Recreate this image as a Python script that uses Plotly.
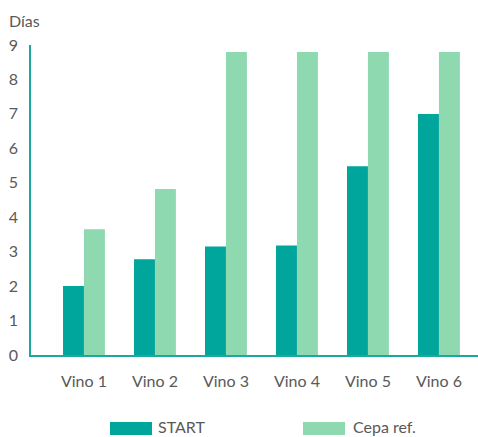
import plotly.graph_objects as go

categories = ["Vino 1", "Vino 2", "Vino 3", "Vino 4", "Vino 5", "Vino 6"]
start_vals = [2.0, 2.78, 3.15, 3.18, 5.48, 7.0]
cepa_vals = [3.65, 4.82, 8.8, 8.8, 8.8, 8.8]
series_names = ["START", "Cepa ref."]
y_ticks = [0, 1, 2, 3, 4, 5, 6, 7, 8, 9]

c_start = "#00a59b"
c_cepa = "#8fd9b0"
txt = "#595959"
axis_c = "#1aa8a0"
font = "Lato"

fig = go.Figure()
fig.add_trace(go.Bar(x=categories, y=start_vals, name=series_names[0],
                     marker=dict(color=c_start, line=dict(width=0)), showlegend=False))
fig.add_trace(go.Bar(x=categories, y=cepa_vals, name=series_names[1],
                     marker=dict(color=c_cepa, line=dict(width=0)), showlegend=False))

W, H = 478, 437
ml, mr, mt, mb = 31, 0, 45, 82
pw, ph = W - ml - mr, H - mt - mb

def px(x):
    return (x - ml) / pw

def py(y):
    return (H - mb - y) / ph

fig.update_layout(
    width=W, height=H,
    margin=dict(l=ml, r=mr, t=mt, b=mb, pad=0),
    paper_bgcolor="white", plot_bgcolor="white",
    barmode="group", bargap=0.41, bargroupgap=0,
    font=dict(family=font, color=txt, size=16),
    xaxis=dict(type="category", range=[-0.746, 5.55], showline=True,
               linecolor=axis_c, linewidth=1.5, showgrid=False, ticks="",
               tickfont=dict(size=16, color=txt), ticklabelstandoff=11),
    yaxis=dict(range=[0, 9], tickvals=y_ticks, showline=True, linecolor=axis_c,
               linewidth=1.5, showgrid=False, zeroline=False, ticks="",
               tickfont=dict(size=16, color=txt), ticklabelstandoff=8),
)

fig.add_annotation(text="Días", xref="paper", yref="paper", x=px(7), y=py(20),
                   xanchor="left", yanchor="middle", showarrow=False,
                   font=dict(size=16, color=txt, family=font))

# legend
legend_items = [(series_names[0], c_start, 110, 152, 156),
                (series_names[1], c_cepa, 303, 345, 351)]
for name, col, x0, x1, tx in legend_items:
    fig.add_shape(type="rect", xref="paper", yref="paper",
                  x0=px(x0), x1=px(x1), y0=py(435), y1=py(422),
                  fillcolor=col, line=dict(width=0))
    fig.add_annotation(text=name, xref="paper", yref="paper", x=px(tx), y=py(426),
                       xanchor="left", yanchor="middle", showarrow=False,
                       font=dict(size=16, color=txt, family=font))

fig.write_html("out.html")
